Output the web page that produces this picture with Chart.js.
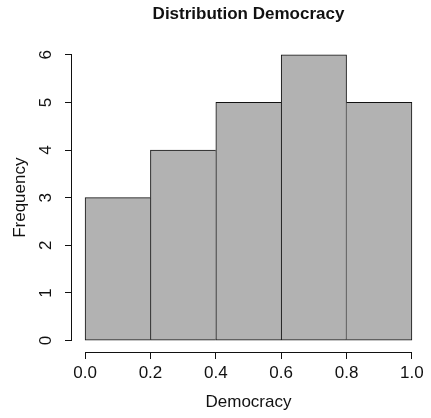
<!DOCTYPE html>
<html>
<head>
<meta charset="utf-8">
<style>
  html, body { margin: 0; padding: 0; background: #ffffff; }
  #wrap { width: 431px; height: 418px; }
</style>
<script src="https://cdn.jsdelivr.net/npm/chart.js@4/dist/chart.umd.min.js"></script>
</head>
<body>
<div id="wrap"><canvas id="hist" width="431" height="418"></canvas></div>
<script>
// Histogram bins and counts
const binEdges = [0.0, 0.2, 0.4, 0.6, 0.8, 1.0];
const frequency = [3, 4, 5, 6, 5];

// Axis ticks
const xTicks = [0.0, 0.2, 0.4, 0.6, 0.8, 1.0];
const xTickLabels = ['0.0', '0.2', '0.4', '0.6', '0.8', '1.0'];
const yTicks = [0, 1, 2, 3, 4, 5, 6];
const yTickLabels = ['0', '1', '2', '3', '4', '5', '6'];

const FONT = '"Liberation Sans", Arial, Helvetica, sans-serif';
const INK = '#111111';

// One bar per bin, centred on the bin midpoint
const points = frequency.map((f, i) => ({ x: (binEdges[i] + binEdges[i + 1]) / 2, y: f }));
const lastBin = frequency.length - 1;

// Shared edges between neighbouring bars are drawn once, by the taller bar
function barBorders(c) {
  const i = c.dataIndex;
  const h = frequency[i];
  const left = (i === 0 || frequency[i - 1] <= h) ? 1 : 0;
  const right = (i === lastBin || frequency[i + 1] < h) ? 1 : 0;
  return { left, right, top: 1, bottom: 1 };
}

// Base-graphics style axis lines: only from first to last tick
const axisLines = {
  id: 'axisLines',
  afterDraw(chart) {
    const { ctx, chartArea, scales } = chart;
    const xs = scales.x, ys = scales.y;
    ctx.save();
    ctx.strokeStyle = INK;
    ctx.lineWidth = 1;
    ctx.beginPath();
    const yb = Math.round(chartArea.bottom) + 0.5;
    ctx.moveTo(xs.getPixelForValue(xTicks[0]), yb);
    ctx.lineTo(xs.getPixelForValue(xTicks[xTicks.length - 1]), yb);
    const xl = Math.round(chartArea.left) - 0.5;
    ctx.moveTo(xl, ys.getPixelForValue(yTicks[0]));
    ctx.lineTo(xl, ys.getPixelForValue(yTicks[yTicks.length - 1]));
    ctx.stroke();
    ctx.restore();
  }
};

new Chart(document.getElementById('hist'), {
  type: 'bar',
  data: {
    datasets: [{
      data: points,
      backgroundColor: '#b2b2b2',
      borderColor: INK,
      borderWidth: barBorders,
      borderSkipped: false,
      barPercentage: 1.0,
      categoryPercentage: 1.0
    }]
  },
  options: {
    responsive: false,
    animation: false,
    events: [],
    layout: { padding: { left: 0, right: 6, top: 0, bottom: 0 } },
    plugins: {
      legend: { display: false },
      tooltip: { enabled: false },
      title: {
        display: true,
        fullSize: false,
        text: 'Distribution Democracy',
        color: INK,
        font: { family: FONT, size: 17, weight: 'bold' },
        padding: { top: 4, bottom: 19 }
      }
    },
    scales: {
      x: {
        type: 'linear',
        min: -0.04,
        max: 1.04,
        offset: false,
        afterBuildTicks: (s) => { s.ticks = xTicks.map(v => ({ value: v })); },
        afterFit: (s) => { s.height = 66; },
        border: { display: false },
        grid: { offset: false, drawOnChartArea: false, drawTicks: true, tickLength: 7, tickColor: INK, lineWidth: 1 },
        ticks: {
          autoSkip: false,
          maxRotation: 0,
          padding: 4,
          color: INK,
          font: { family: FONT, size: 17 },
          callback: (v, i) => xTickLabels[i]
        },
        title: {
          display: true,
          text: 'Democracy',
          color: INK,
          font: { family: FONT, size: 17 },
          padding: { top: 0, bottom: 5 }
        }
      },
      y: {
        type: 'linear',
        min: -0.24,
        max: 6.24,
        afterBuildTicks: (s) => { s.ticks = yTicks.map(v => ({ value: v })); },
        afterFit: (s) => { s.width = 72; },
        border: { display: false },
        grid: { drawOnChartArea: false, drawTicks: true, tickLength: 7, tickColor: INK, lineWidth: 1 },
        ticks: {
          autoSkip: false,
          minRotation: 90,
          maxRotation: 90,
          crossAlign: 'center',
          padding: 14,
          color: INK,
          font: { family: FONT, size: 17 },
          callback: (v, i) => yTickLabels[i]
        },
        title: {
          display: true,
          text: 'Frequency',
          color: INK,
          font: { family: FONT, size: 17 },
          padding: { top: 10, bottom: 0 }
        }
      }
    }
  },
  plugins: [axisLines]
});
</script>
</body>
</html>
